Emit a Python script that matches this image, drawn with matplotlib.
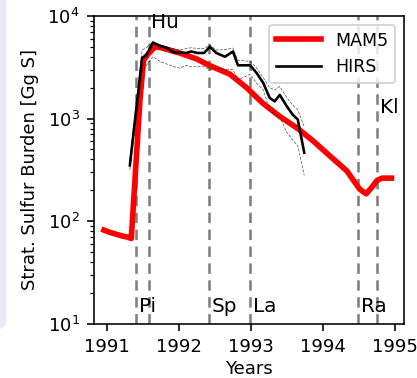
import matplotlib
matplotlib.use('Agg')
import matplotlib.pyplot as plt
from matplotlib.patches import FancyBboxPatch

# MAM5 model burden (Gg S)
mam5_t = [1990.96, 1991.04, 1991.125, 1991.21, 1991.29, 1991.34, 1991.46, 1991.51,
          1991.58, 1991.67, 1991.75, 1992.01, 1992.25, 1992.42, 1992.71, 1992.94,
          1993.17, 1993.4, 1993.65, 1993.87, 1994.1, 1994.33, 1994.51, 1994.6,
          1994.68, 1994.75, 1994.82, 1994.95]
mam5_v = [82, 78, 75, 72, 70, 68, 1500, 3700,
          4300, 5000, 4900, 4350, 3800, 3300, 2700, 2000,
          1400, 1050, 800, 600, 430, 310, 205, 185,
          215, 250, 263, 263]

# HIRS observations and uncertainty range
hirs_t = [1991.32, 1991.49, 1991.55, 1991.64, 1991.74, 1991.83, 1991.93, 1992.01,
          1992.1, 1992.17, 1992.26, 1992.35, 1992.43, 1992.52, 1992.64, 1992.75,
          1992.82, 1992.99, 1993.08, 1993.17, 1993.26, 1993.33, 1993.4, 1993.5,
          1993.58, 1993.65, 1993.74]
hirs_v = [350, 3900, 4150, 5500, 5100, 4900, 4400, 4400,
          4350, 4500, 4350, 4350, 5000, 4350, 4000, 4500,
          3300, 3300, 2770, 2230, 1590, 1470, 1700, 1310,
          1090, 980, 465]
hirs_hi = [400, 4650, 4900, 5600, 5200, 5000, 4800, 4650,
           4800, 4900, 4800, 4800, 5200, 4650, 4700, 4850,
           3700, 3600, 3100, 2500, 2000, 1900, 2050, 1590,
           1350, 1220, 830]
hirs_lo = [316, 2870, 3300, 4000, 3600, 3400, 3200, 3100,
           3300, 3200, 3200, 3200, 2970, 3100, 3000, 3000,
           2380, 2700, 2200, 1900, 1220, 1100, 1040, 730,
           620, 540, 280]

# eruptions: name, date
erupt_names = ['Pi', 'Hu', 'Sp', 'La', 'Ra', 'Kl']
erupt_t = [1991.41, 1991.58, 1992.42, 1992.99, 1994.49, 1994.75]
label_y = [12, 6900, 12, 12, 12, 1040]

fig = plt.figure(figsize=(417/144, 378/144), dpi=144)
# light side panel from the page behind the figure
fig.patches.append(FancyBboxPatch((-0.05, 0.13), 0.065, 0.9, boxstyle='round,pad=0,rounding_size=0.02',
                                  transform=fig.transFigure, facecolor='#ebebf5', edgecolor='none'))
ax = fig.add_axes([0.225, 0.143, 0.744, 0.815])

for t in erupt_t:
    ax.axvline(t, color='gray', linestyle='--', lw=1.3, dashes=(4, 2.5))
for name, t, y in zip(erupt_names, erupt_t, label_y):
    ax.text(t + 0.04, y, name, fontsize=10, va='bottom', ha='left')

ax.plot(mam5_t, mam5_v, color='red', lw=2.8, label='MAM5', solid_joinstyle='round')
ax.plot(hirs_t, hirs_v, color='black', lw=1.3, label='HIRS')
ax.plot(hirs_t, hirs_hi, color='black', lw=0.4, linestyle='--', alpha=0.6)
ax.plot(hirs_t, hirs_lo, color='black', lw=0.4, linestyle='--', alpha=0.6)

ax.set_yscale('log')
ax.set_ylim(10, 1e4)
ax.set_xlim(1990.82, 1995.125)
ax.set_xticks([1991, 1992, 1993, 1994, 1995])
ax.set_xticklabels(['1991', '1992', '1993', '1994', '1995'])
ax.tick_params(labelsize=9)
ax.set_xlabel('Years', fontsize=9, labelpad=2)
ax.set_ylabel('Strat. Sulfur Burden [Gg S]', fontsize=9)
ax.legend(loc='upper right', fontsize=8.7, handlelength=2.6)

fig.savefig('out.png', dpi=144)
